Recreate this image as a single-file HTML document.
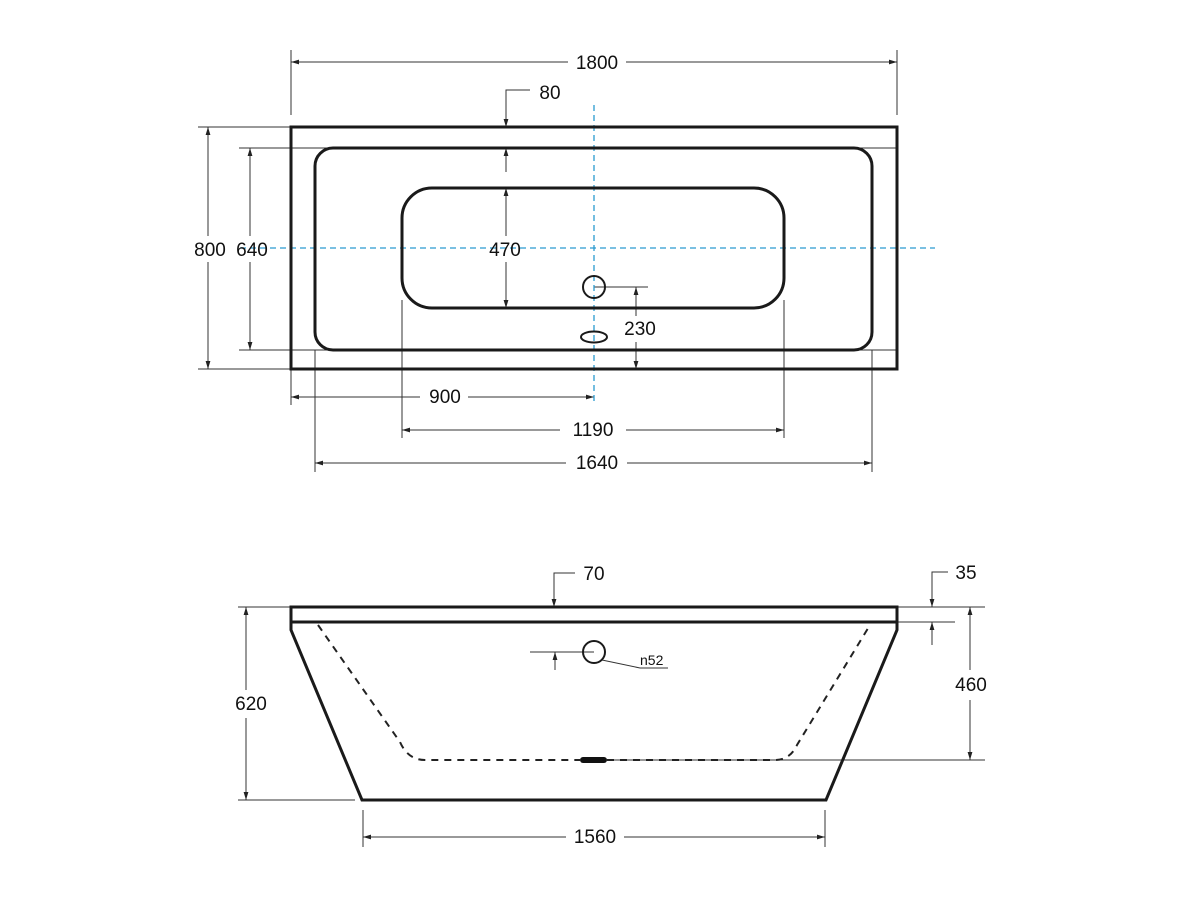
<!DOCTYPE html>
<html><head><meta charset="utf-8"><style>
html,body{margin:0;padding:0;background:#fff;}
svg{display:block;}
text{font-family:"Liberation Sans",Arial,sans-serif;font-size:19px;fill:#111;}
</style></head><body>
<svg width="1200" height="900" viewBox="0 0 1200 900" xmlns="http://www.w3.org/2000/svg">
<defs>
<marker id="a" viewBox="0 0 10 10" refX="10" refY="5" markerWidth="8" markerHeight="8" orient="auto-start-reverse" markerUnits="userSpaceOnUse"><path d="M0,2 L10,5 L0,8 z" fill="#222"/></marker>
</defs>
<g stroke="#333" stroke-width="1" fill="none">
<line x1="291" y1="50" x2="291" y2="115"/><line x1="897" y1="50" x2="897" y2="115"/>
<line x1="291" y1="62" x2="568" y2="62" marker-start="url(#a)"/><line x1="626" y1="62" x2="897" y2="62" marker-end="url(#a)"/>
<polyline points="530,90 506,90 506,127" marker-end="url(#a)"/>
<line x1="506" y1="172" x2="506" y2="148" marker-end="url(#a)"/>
<line x1="506" y1="188" x2="506" y2="236" marker-start="url(#a)"/><line x1="506" y1="262" x2="506" y2="308" marker-end="url(#a)"/>
<line x1="198" y1="127" x2="291" y2="127"/><line x1="198" y1="369" x2="291" y2="369"/>
<line x1="208" y1="127" x2="208" y2="236" marker-start="url(#a)"/><line x1="208" y1="262" x2="208" y2="369" marker-end="url(#a)"/>
<line x1="239" y1="148" x2="897" y2="148"/><line x1="239" y1="350" x2="897" y2="350"/>
<line x1="250" y1="148" x2="250" y2="236" marker-start="url(#a)"/><line x1="250" y1="262" x2="250" y2="350" marker-end="url(#a)"/>
<line x1="594" y1="287" x2="648" y2="287"/>
<line x1="636" y1="287" x2="636" y2="316" marker-start="url(#a)"/><line x1="636" y1="342" x2="636" y2="369" marker-end="url(#a)"/>
<line x1="291" y1="369" x2="291" y2="405"/>
<line x1="291" y1="397" x2="420" y2="397" marker-start="url(#a)"/><line x1="468" y1="397" x2="594" y2="397" marker-end="url(#a)"/>
<line x1="402" y1="300" x2="402" y2="438"/><line x1="784" y1="300" x2="784" y2="438"/>
<line x1="402" y1="430" x2="560" y2="430" marker-start="url(#a)"/><line x1="626" y1="430" x2="784" y2="430" marker-end="url(#a)"/>
<line x1="315" y1="350" x2="315" y2="472"/><line x1="872" y1="350" x2="872" y2="472"/>
<line x1="315" y1="463" x2="566" y2="463" marker-start="url(#a)"/><line x1="627" y1="463" x2="872" y2="463" marker-end="url(#a)"/>
<polyline points="575,573 554,573 554,607" marker-end="url(#a)"/>
<polyline points="948,572 932,572 932,607" marker-end="url(#a)"/>
<line x1="932" y1="645" x2="932" y2="622" marker-end="url(#a)"/>
<line x1="897" y1="607" x2="985" y2="607"/><line x1="897" y1="622" x2="955" y2="622"/>
<line x1="970" y1="607" x2="970" y2="670" marker-start="url(#a)"/><line x1="970" y1="700" x2="970" y2="760" marker-end="url(#a)"/>
<line x1="607" y1="760" x2="985" y2="760"/>
<line x1="238" y1="607" x2="291" y2="607"/><line x1="238" y1="800" x2="355" y2="800"/>
<line x1="246" y1="607" x2="246" y2="690" marker-start="url(#a)"/><line x1="246" y1="718" x2="246" y2="800" marker-end="url(#a)"/>
<line x1="530" y1="652" x2="594" y2="652"/>
<line x1="555" y1="670" x2="555" y2="652" marker-end="url(#a)"/>
<polyline points="602,660 640,668 668,668"/>
<line x1="363" y1="810" x2="363" y2="847"/><line x1="825" y1="810" x2="825" y2="847"/>
<line x1="363" y1="837" x2="566" y2="837" marker-start="url(#a)"/><line x1="624" y1="837" x2="825" y2="837" marker-end="url(#a)"/>
</g>
<g stroke="#2a9ad0" stroke-width="1.3" stroke-dasharray="6,4" fill="none">
<line x1="594" y1="105" x2="594" y2="405"/>
<line x1="240" y1="248" x2="935" y2="248"/>
</g>
<g stroke="#1a1a1a" stroke-width="3" fill="none">
<rect x="291" y="127" width="606" height="242"/>
<rect x="315" y="148" width="557" height="202" rx="18"/>
<rect x="402" y="188" width="382" height="120" rx="30"/>
</g>
<g stroke="#1a1a1a" stroke-width="2" fill="none">
<circle cx="594" cy="287" r="11"/>
<ellipse cx="594" cy="337" rx="13" ry="5.5"/>
</g>
<g stroke="#1a1a1a" stroke-width="3" fill="none">
<rect x="291" y="607" width="606" height="15"/>
<polyline points="291,622 291,630 362,800 826,800 897,630 897,622"/>
</g>
<path d="M318,625 L400,742 Q408,760 425,760 L580,760 M607,760 L775,760 Q790,760 797,745 L870,625" stroke="#222" stroke-width="2" stroke-dasharray="7,6" fill="none"/>
<rect x="580" y="757" width="27" height="6" rx="3" fill="#111"/>
<circle cx="594" cy="652" r="11" stroke="#1a1a1a" stroke-width="2" fill="none"/>
<g text-anchor="middle">
<text x="597" y="69">1800</text>
<text x="550" y="99">80</text>
<text x="505" y="256">470</text>
<text x="210" y="256">800</text>
<text x="252" y="256">640</text>
<text x="640" y="335">230</text>
<text x="445" y="403">900</text>
<text x="593" y="436">1190</text>
<text x="597" y="469">1640</text>
<text x="594" y="580">70</text>
<text x="966" y="579">35</text>
<text x="971" y="691">460</text>
<text x="251" y="710">620</text>
<text x="595" y="843">1560</text>
</g>
<text x="640" y="665" style="font-size:14px">n52</text>
</svg>
</body></html>
